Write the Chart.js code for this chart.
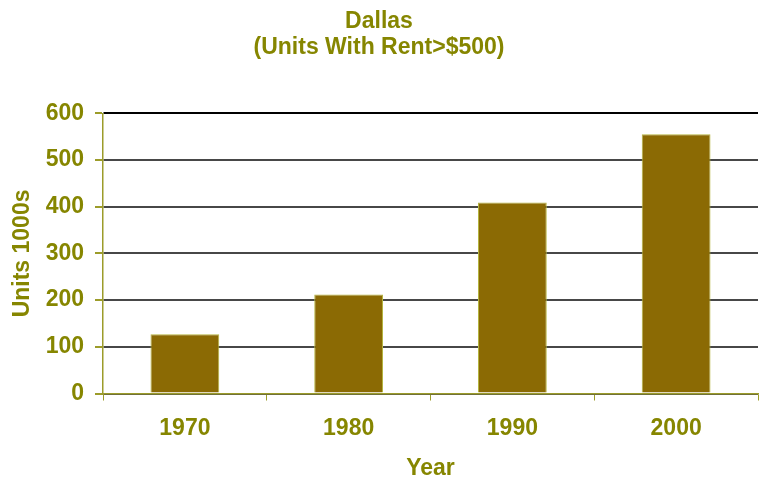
<!DOCTYPE html>
<html>
<head>
<meta charset="utf-8">
<script src="https://cdn.jsdelivr.net/npm/chart.js@4"></script>
<style>
  html, body { margin: 0; padding: 0; background: #fff; }
  #wrap { width: 759px; height: 478px; position: relative; }
</style>
</head>
<body>
<div id="wrap"><canvas id="c" width="759" height="478"></canvas></div>
<script>
const years = ["1970", "1980", "1990", "2000"];
const units = [127, 212, 409, 555];
const yTicks = [0, 100, 200, 300, 400, 500, 600];
const titleLines = ["Dallas", "(Units With Rent>$500)"];
const yTitle = "Units 1000s";
const xTitle = "Year";

const OLIVE = "#868600";
const AXIS = "#9C9C2A";
const FONT = "'Liberation Sans', Arial, sans-serif";

new Chart(document.getElementById("c"), {
  type: "bar",
  data: {
    labels: years,
    datasets: [{
      data: units,
      backgroundColor: "#8B6A04",
      borderColor: "#B5B540",
      borderWidth: 1,
      categoryPercentage: 1.0,
      barPercentage: 0.42
    }]
  },
  options: {
    responsive: false,
    animation: false,
    devicePixelRatio: 1,
    layout: { padding: { left: 0, right: 1, top: 0, bottom: 0 } },
    plugins: {
      legend: { display: false },
      tooltip: { enabled: false },
      title: {
        display: true,
        text: titleLines,
        color: OLIVE,
        font: { family: FONT, size: 23, weight: "bold", lineHeight: 1.16 },
        padding: { top: 8, bottom: 52 }
      }
    },
    scales: {
      x: {
        afterFit: s => { s.height = 478 - 393.5; },
        grid: {
          display: true,
          drawOnChartArea: false,
          drawTicks: true,
          tickLength: 7,
          tickColor: AXIS,
          color: AXIS,
          offset: true
        },
        border: { display: true, color: AXIS, width: 1.5 },
        ticks: {
          color: OLIVE,
          padding: 14,
          font: { family: FONT, size: 23, weight: "bold" }
        },
        title: {
          display: true,
          text: xTitle,
          color: OLIVE,
          font: { family: FONT, size: 23, weight: "bold", lineHeight: 0.8 },
          padding: { top: 0, bottom: 0 }
        }
      },
      y: {
        min: 0,
        max: 600,
        afterFit: s => { s.width = 103; },
        afterBuildTicks: s => { s.ticks = yTicks.map(v => ({ value: v })); },
        grid: {
          display: true,
          drawTicks: true,
          tickLength: 8,
          tickColor: AXIS,
          lineWidth: 2,
          color: ctx => (ctx.tick && ctx.tick.value === 600) ? "#000000" : "#474747"
        },
        border: { display: true, color: AXIS, width: 1.5 },
        ticks: {
          color: OLIVE,
          padding: 11,
          font: { family: FONT, size: 23, weight: "bold" }
        },
        title: {
          display: true,
          text: yTitle,
          color: OLIVE,
          font: { family: FONT, size: 23, weight: "bold", lineHeight: 1.2 },
          padding: { top: 9, bottom: 0 }
        }
      }
    }
  }
});
</script>
</body>
</html>
